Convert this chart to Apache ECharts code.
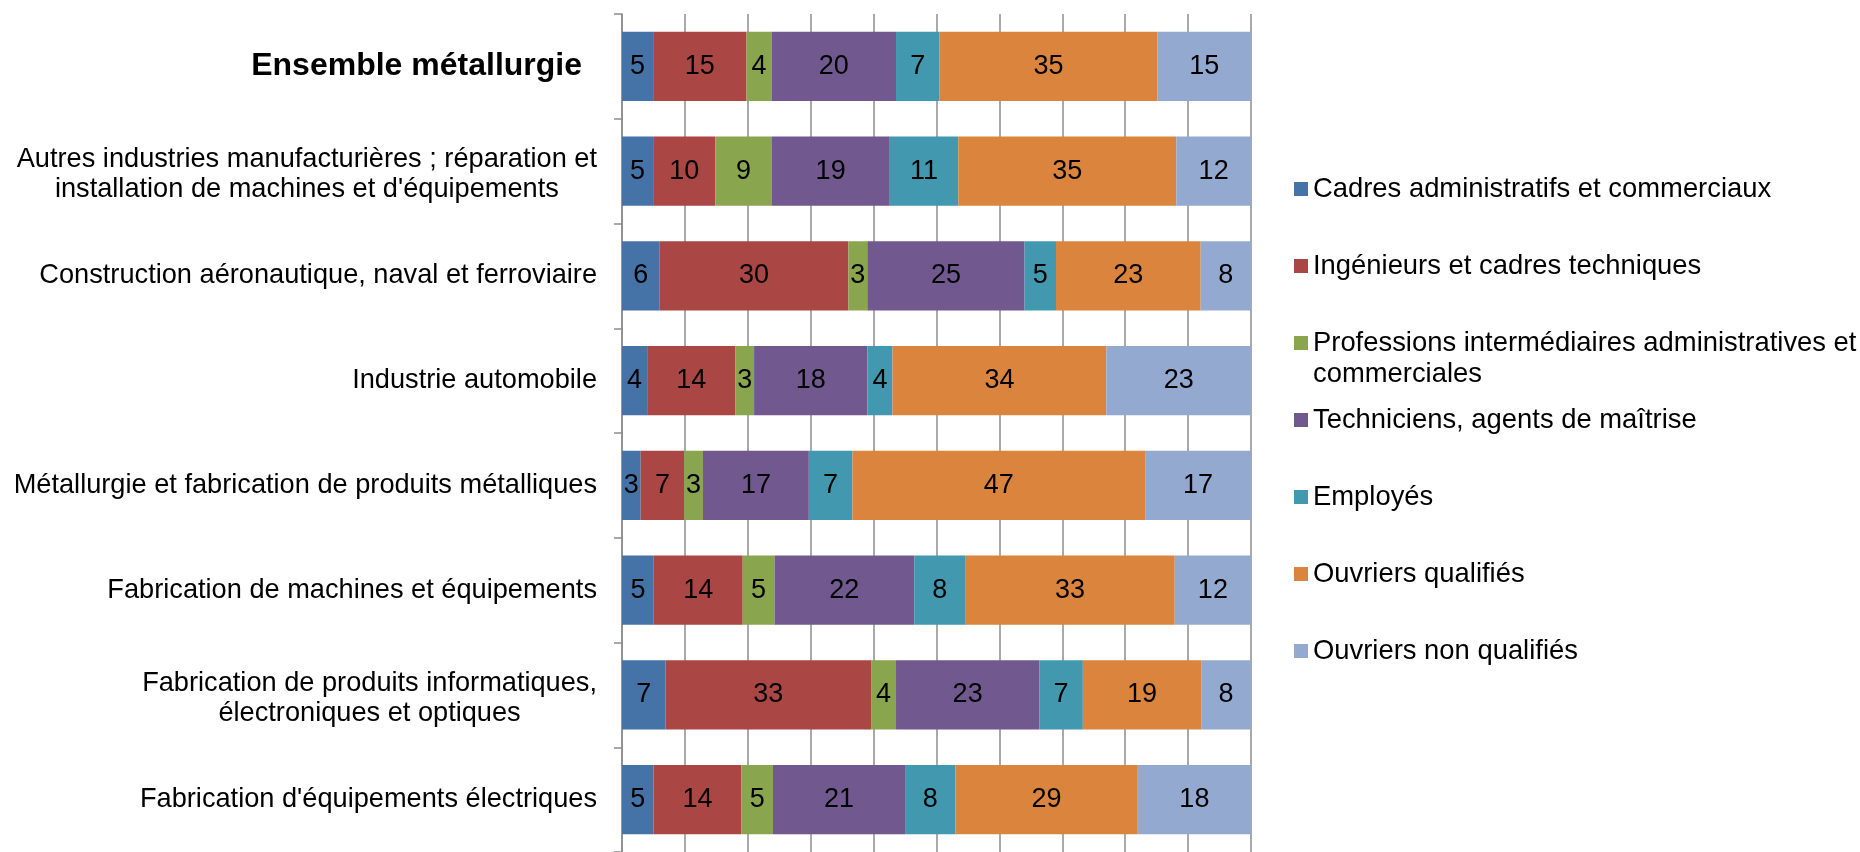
<!DOCTYPE html>
<html>
<head>
<meta charset="utf-8">
<script src="https://cdn.jsdelivr.net/npm/echarts@6/dist/echarts.min.js"></script>
<style>
  html, body { margin: 0; padding: 0; background: #ffffff; }
  #chart { width: 1860px; height: 852px; }
</style>
</head>
<body>
<div id="chart"></div>
<script>
// Sectors of the metal industry, top to bottom
const categories = [
  'Ensemble métallurgie',
  "Autres industries manufacturières ; réparation et\ninstallation de machines et d'équipements",
  'Construction aéronautique, naval et ferroviaire',
  'Industrie automobile',
  'Métallurgie et fabrication de produits métalliques',
  'Fabrication de machines et équipements',
  'Fabrication de produits informatiques,\nélectroniques et optiques',
  "Fabrication d'équipements électriques"
];

// Occupational groups (legend order)
const groups = [
  'Cadres administratifs et commerciaux',
  'Ingénieurs et cadres techniques',
  'Professions intermédiaires administratives et\ncommerciales',
  'Techniciens, agents de maîtrise',
  'Employés',
  'Ouvriers qualifiés',
  'Ouvriers non qualifiés'
];

// Share of each group per sector, in %
const cadresAdmin    = [5, 5, 6, 4, 3, 5, 7, 5];
const ingenieurs     = [15, 10, 30, 14, 7, 14, 33, 14];
const profInter      = [4, 9, 3, 3, 3, 5, 4, 5];
const techniciens    = [20, 19, 25, 18, 17, 22, 23, 21];
const employes       = [7, 11, 5, 4, 7, 8, 7, 8];
const ouvriersQual   = [35, 35, 23, 34, 47, 33, 19, 29];
const ouvriersNonQ   = [15, 12, 8, 23, 17, 12, 8, 18];

const seriesValues = [cadresAdmin, ingenieurs, profInter, techniciens, employes, ouvriersQual, ouvriersNonQ];
const colors = ['#4572A7', '#AA4643', '#89A54E', '#71588F', '#4198AF', '#DB843D', '#93A9CF'];

const FONT = "'Liberation Sans', Arial, sans-serif";
const FS_AXIS = 27.2;
const FS_LEGEND = 27.4;
const FS_BAR = 27;

// 100 % stacked: each row is scaled to its own total, labels keep the stated values
const rowTotals = categories.map((_, i) => seriesValues.reduce((s, arr) => s + arr[i], 0));

const series = groups.map((name, k) => ({
  name: name,
  type: 'bar',
  stack: 'total',
  barCategoryGap: '34%',
  itemStyle: { color: colors[k] },
  label: {
    show: true,
    position: 'inside',
    color: '#000000',
    fontFamily: FONT,
    fontSize: FS_BAR,
    formatter: p => String(seriesValues[k][p.dataIndex])
  },
  emphasis: { disabled: true },
  data: seriesValues[k].map((v, i) => v / rowTotals[i] * 100)
}));

// one legend block per group so every entry keeps the same vertical pitch;
// a wrapped name gets an empty leading line so its first line sits beside the swatch
const legendCenters = [189, 266, 343, 420, 497, 574, 651];
const legends = groups.map((name, k) => {
  const twoLines = name.indexOf('\n') >= 0;
  return {
    data: [name],
    orient: 'vertical',
    left: 1294,
    top: twoLines ? legendCenters[k] - 46.5 : legendCenters[k] - 15.5,
    padding: 0,
    itemWidth: 14,
    itemHeight: 14,
    icon: 'rect',
    formatter: n => (n.indexOf('\n') >= 0 ? '\n' + n : n),
    textStyle: {
      fontFamily: FONT,
      fontSize: FS_LEGEND,
      lineHeight: 31,
      color: '#000000'
    }
  };
});

const chart = echarts.init(document.getElementById('chart'), null, { renderer: 'canvas' });
chart.setOption({
  animation: false,
  backgroundColor: '#ffffff',
  color: colors,
  legend: legends,
  grid: { left: 622, top: 14, width: 629, height: 841, containLabel: false },
  xAxis: {
    type: 'value',
    min: 0,
    max: 100,
    interval: 10,
    axisLabel: { show: false },
    axisLine: { show: false },
    axisTick: { show: false },
    splitLine: { show: true, lineStyle: { color: '#8c8c8c', width: 1.5 } }
  },
  yAxis: {
    type: 'category',
    inverse: true,
    data: categories,
    axisLine: { show: true, lineStyle: { color: '#8c8c8c', width: 1.5 } },
    axisTick: { show: true, inside: false, length: 8, lineStyle: { color: '#8c8c8c', width: 1.5 } },
    axisLabel: {
      margin: 25,
      color: '#000000',
      fontFamily: FONT,
      fontSize: FS_AXIS,
      lineHeight: 30,
      align: 'right',
      formatter: (value, idx) => {
        if (idx === 0) return '{b|' + value + '}';
        const lines = value.split('\n').map(l => '{c|' + l + '}');
        return lines.length > 1 ? '{s| }\n' + lines.join('\n') : lines[0];
      },
      rich: {
        b: { fontFamily: FONT, fontSize: 32, fontWeight: 'bold', color: '#000000', padding: [0, 15, 0, 0] },
        c: { fontFamily: FONT, fontSize: FS_AXIS, lineHeight: 30, color: '#000000', align: 'center' },
        s: { fontFamily: FONT, fontSize: 2, lineHeight: 7, color: '#000000' }
      }
    }
  },
  series: series
});
</script>
</body>
</html>
